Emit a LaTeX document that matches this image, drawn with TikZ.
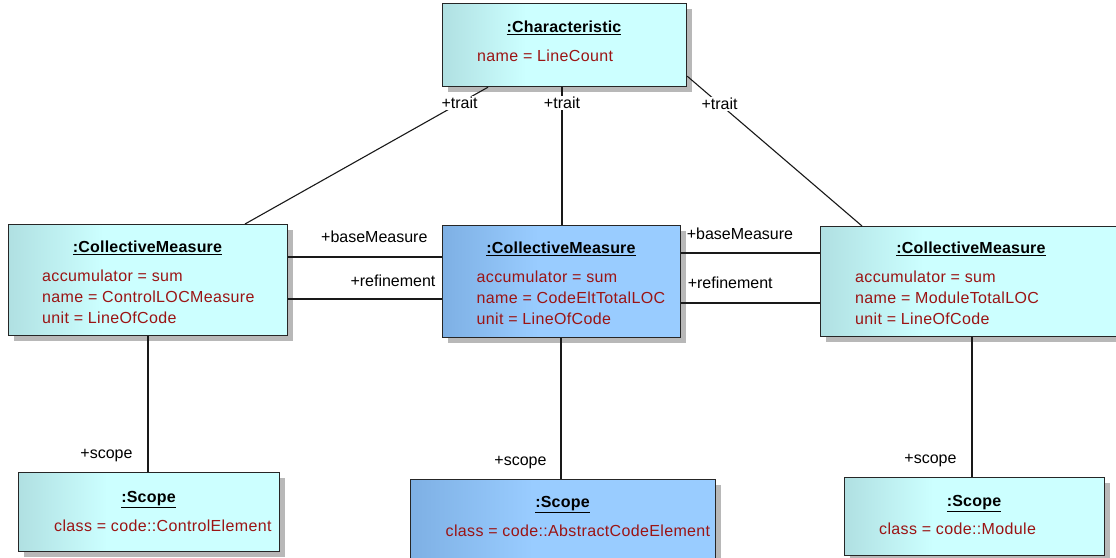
\documentclass[tikz,border=0pt]{standalone}
\usepackage{fontspec}
\setmainfont{Liberation Sans}
\newfontfamily\attrfont[LetterSpace=2.2]{Liberation Sans}
\newfontfamily\titlefont[LetterSpace=1.2]{Liberation Sans}
\usetikzlibrary{shadows,calc}

\definecolor{attrred}{RGB}{155,20,20}
\definecolor{cyanL}{RGB}{176,224,226}
\definecolor{cyanR}{RGB}{204,255,255}
\definecolor{blueL}{RGB}{126,176,228}
\definecolor{blueR}{RGB}{153,204,255}

% fill of the object boxes: darker on the left, light over the rest
\pgfdeclarehorizontalshading{cyanfade}{100bp}{color(0bp)=(cyanL); color(25bp)=(cyanL); color(42bp)=(cyanR); color(100bp)=(cyanR)}
\pgfdeclarehorizontalshading{bluefade}{100bp}{color(0bp)=(blueL); color(25bp)=(blueL); color(45bp)=(blueR); color(100bp)=(blueR)}

\tikzset{
  objbox/.style={draw=black!85, line width=1.2bp, anchor=north west, inner sep=0pt,
    shade, shading=cyanfade,
    drop shadow={shadow xshift=5bp, shadow yshift=-5bp, fill=black!28, opacity=1}},
  hibox/.style={objbox, shading=bluefade},
  otitle/.style={font=\fontsize{16bp}{19bp}\titlefont\bfseries, anchor=base, inner sep=0pt},
  attr/.style={font=\fontsize{16bp}{19bp}\attrfont, text=attrred, anchor=base west, inner sep=0pt},
  role/.style={font=\fontsize{16bp}{19bp}\selectfont, inner sep=1pt},
  link/.style={draw=black!90, line width=1.1bp},
  endlabel/.style={role, pos=1, anchor=base east, inner sep=0pt},
  startlabel/.style={role, pos=0, anchor=base west, inner sep=0pt}
}

\begin{document}
\begin{tikzpicture}[x=1bp, y=-1bp]
\useasboundingbox (0,0) rectangle (1116,558);

% ---------- objects ----------
\node[objbox, minimum width=244bp, minimum height=83bp] (char) at (442,3) {};
\node[otitle] (chart) at (564,32.5) {\underline{:Characteristic}};
\node[attr] (chara) at (477,62) {name = LineCount};

\node[objbox, minimum width=279bp, minimum height=111bp] (lcm) at (8,224) {};
\node[otitle] (lcmt) at (147.5,252.5) {\underline{:CollectiveMeasure}};
\node[attr] (lcma1) at (42,282) {accumulator = sum};
\node[attr] (lcma2) at (42,303) {name = ControlLOCMeasure};
\node[attr] (lcma3) at (42,324) {unit = LineOfCode};

\node[hibox, minimum width=238bp, minimum height=112bp] (mcm) at (442,225) {};
\node[otitle] (mcmt) at (561,254) {\underline{:CollectiveMeasure}};
\node[attr] (mcma1) at (476.5,283) {accumulator = sum};
\node[attr] (mcma2) at (476.5,304) {name = CodeEltTotalLOC};
\node[attr] (mcma3) at (476.5,325) {unit = LineOfCode};

\node[objbox, minimum width=302bp, minimum height=110bp] (rcm) at (820,226) {};
\node[otitle] (rcmt) at (971,254) {\underline{:CollectiveMeasure}};
\node[attr] (rcma1) at (855,283) {accumulator = sum};
\node[attr] (rcma2) at (855,304) {name = ModuleTotalLOC};
\node[attr] (rcma3) at (855,325) {unit = LineOfCode};

\node[objbox, minimum width=261bp, minimum height=79bp] (lsc) at (18,472) {};
\node[otitle] (lsct) at (148.5,502) {\underline{:Scope}};
\node[attr] (lsca) at (54,531) {class = code::ControlElement};

\node[hibox, minimum width=305bp, minimum height=80bp] (msc) at (410,479) {};
\node[otitle] (msct) at (562.5,507) {\underline{:Scope}};
\node[attr] (msca) at (445.5,536) {class = code::AbstractCodeElement};

\node[objbox, minimum width=260bp, minimum height=78bp] (rsc) at (844,477) {};
\node[otitle] (rsct) at (974,506) {\underline{:Scope}};
\node[attr] (rsca) at (879,534) {class = code::Module};

% ---------- links ----------
\draw[link] ([xshift=46bp]char.south west) -- node[role, pos=0.117, fill=white] {+trait} ([xshift=237bp]lcm.north west);
\draw[link] ([xshift=120bp]char.south west) coordinate (ct) -- node[role, pos=0.115, fill=white] {+trait} (ct |- mcm.north);
\draw[link] ([yshift=11bp]char.south east) -- node[role, pos=0.185, fill=white] {+trait} ([xshift=42bp]rcm.north west);

\draw[link] ([yshift=-33bp]lcm.north east) coordinate (lb) -- (lb -| mcm.west)
  node[endlabel, xshift=-14bp, yshift=14bp] {+baseMeasure};
\draw[link] ([yshift=-75bp]lcm.north east) coordinate (lr) -- (lr -| mcm.west)
  node[endlabel, xshift=-6bp, yshift=12.5bp] {+refinement};

\draw[link] ([yshift=-28bp]mcm.north east) coordinate (rb) -- (rb -| rcm.west)
  node[startlabel, xshift=5bp, yshift=13bp] {+baseMeasure};
\draw[link] ([yshift=-78bp]mcm.north east) coordinate (rr) -- (rr -| rcm.west)
  node[startlabel, xshift=6bp, yshift=14bp] {+refinement};

\draw[link] ([xshift=140bp]lcm.south west) coordinate (ls) -- (ls |- lsc.north)
  node[endlabel, xshift=-15bp, yshift=14bp] {+scope};
\draw[link] ([xshift=119bp]mcm.south west) coordinate (ms) -- (ms |- msc.north)
  node[endlabel, xshift=-14bp, yshift=14bp] {+scope};
\draw[link] ([xshift=152bp]rcm.south west) coordinate (rs) -- (rs |- rsc.north)
  node[endlabel, xshift=-15bp, yshift=14bp] {+scope};
\end{tikzpicture}
\end{document}
